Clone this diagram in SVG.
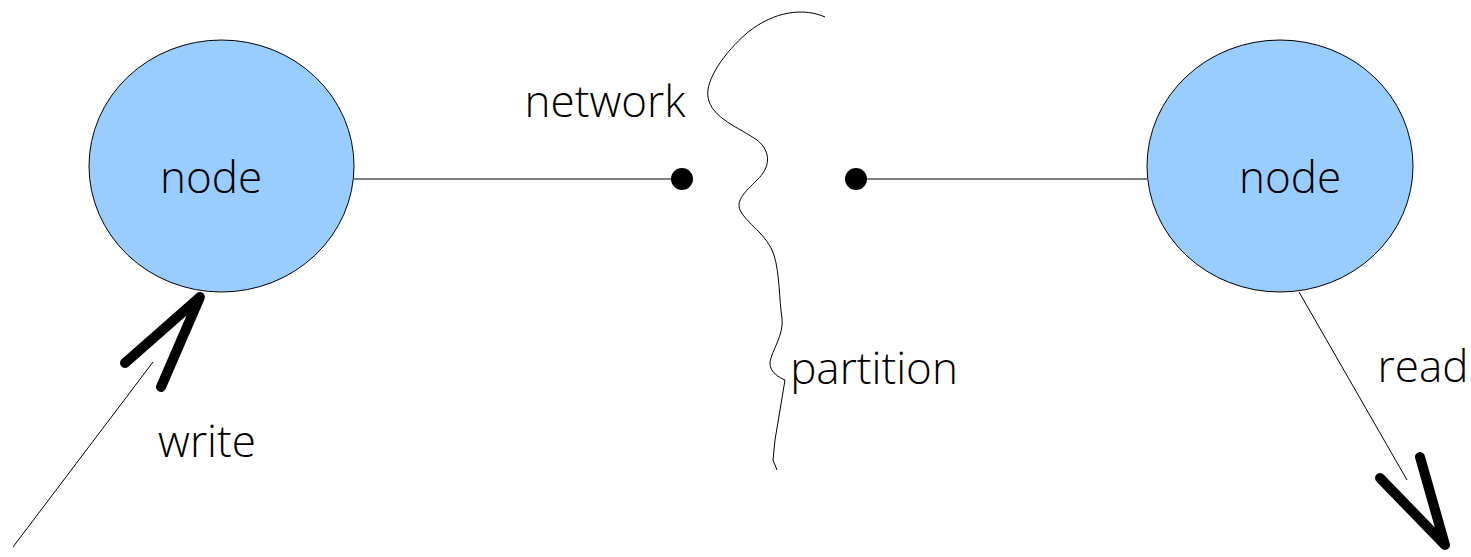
<svg xmlns="http://www.w3.org/2000/svg" width="1471" height="557" viewBox="0 0 1471 557">
<style>
.node{fill:#99ccff;stroke:#000;stroke-width:1}
.lbl{font-family:"Open Sans","Liberation Sans",sans-serif;font-weight:300;font-size:44px;fill:#000}
.thin{fill:none;stroke:#000;stroke-width:1}
.head{fill:none;stroke:#000;stroke-width:10;stroke-linecap:round;stroke-linejoin:round}
</style>
<rect width="1471" height="557" fill="#fff"/>
<g id="connectors">
<line class="thin" x1="354" y1="179" x2="682" y2="179"/>
<circle cx="682" cy="179" r="11" fill="#000"/>
<line class="thin" x1="856" y1="179" x2="1147" y2="179"/>
<circle cx="856" cy="179" r="11" fill="#000"/>
<line class="thin" x1="13" y1="547" x2="153" y2="362"/>
<polyline class="head" points="125,363 200,297 161,387"/>
<line class="thin" x1="1299" y1="292" x2="1407" y2="480"/>
<polyline class="head" points="1380,478 1445,545 1420,457"/>
</g>
<g id="partition">
<path class="thin" d="M825,17 C805,8 775,10 747,33 C725,52 705,80 708,97 C711,118 740,128 757,140 C772,152 770,168 757,180 C745,192 736,200 740,210 C745,222 768,235 774,255 C780,275 779,300 782,318 C784,335 772,350 770,362 C769,372 780,378 785,380 L780,410 L775,440 L773,460 L777,470"/>
</g>
<g id="node-left">
<ellipse class="node" cx="221.5" cy="166" rx="132.5" ry="126"/>
<text class="lbl" x="211" y="193" text-anchor="middle">node</text>
</g>
<g id="node-right">
<ellipse class="node" cx="1280" cy="166" rx="133" ry="126"/>
<text class="lbl" x="1290" y="193" text-anchor="middle">node</text>
</g>
<g id="labels">
<text class="lbl" x="605" y="117" text-anchor="middle">network</text>
<text class="lbl" x="874" y="384" text-anchor="middle">partition</text>
<text class="lbl" x="1423" y="382" text-anchor="middle">read</text>
<text class="lbl" x="207" y="457" text-anchor="middle">write</text>
</g>
</svg>
